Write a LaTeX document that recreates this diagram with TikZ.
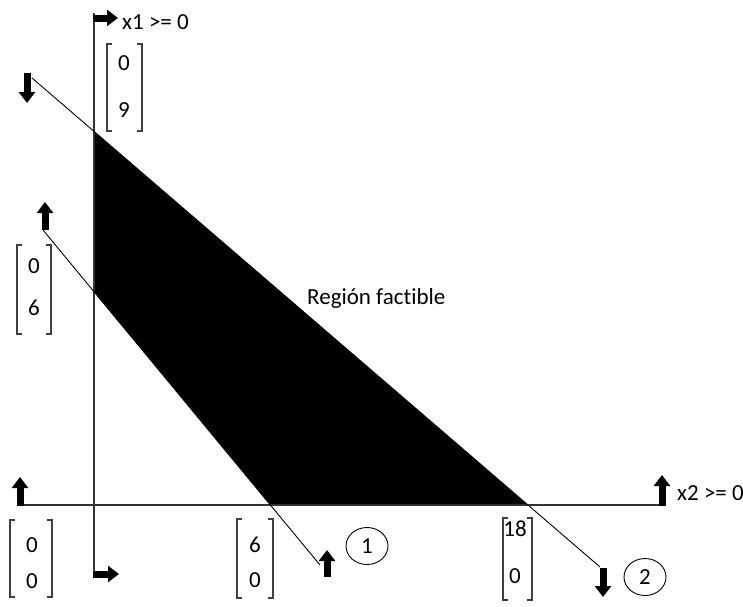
\documentclass[tikz,border=0pt]{standalone}
\usepackage{fontspec}
\setmainfont{Carlito}[Ligatures={NoCommon}]
\usetikzlibrary{arrows.meta,shapes.geometric}
\begin{document}
\begin{tikzpicture}[x=1pt,y=-1pt,
  axis/.style={draw=black!80, line width=1.6pt},
  constraint/.style={draw=black, line width=0.9pt},
  blockarrow/.style={line width=7pt, line cap=butt, -{Triangle[length=11pt,width=16pt]}},
  bracketline/.style={draw=black!75, line width=1.4pt},
  lbl/.style={font=\fontsize{23}{27}\selectfont, inner sep=0pt, text=black},
  tag/.style={draw=black, line width=0.9pt, ellipse, minimum width=42pt, minimum height=37pt, inner sep=0pt, font=\fontsize{23}{27}\selectfont}]
\useasboundingbox (0,0) rectangle (743,606);
% key points
\coordinate (L2a) at (32,78);
\coordinate (L2b) at (600,567);
\coordinate (L1a) at (43,230);
\coordinate (L1b) at (320,565);
\coordinate (Vt) at (94,13);
\coordinate (Vb) at (94,574);
\coordinate (Hl) at (19,505);
\coordinate (Hr) at (662,505);
% feasible region
\fill[black] (intersection of L2a--L2b and Vt--Vb) -- (intersection of L2a--L2b and Hl--Hr)
  -- (intersection of L1a--L1b and Hl--Hr) -- (intersection of L1a--L1b and Vt--Vb) -- cycle;
% axes
\draw[axis] (Vt) -- (Vb);
\draw[axis] (Hl) -- (Hr);
% constraint lines
\draw[constraint] (L2a) -- (L2b);
\draw[constraint] (L1a) -- (L1b);
% block arrows
\coordinate (aT1) at (93,18);  \coordinate (aT2) at (118,18);
\coordinate (aB1) at (93,574); \coordinate (aB2) at (119,574);
\coordinate (aL1) at (20,506); \coordinate (aL2) at (20,477);
\coordinate (aR1) at (662,506); \coordinate (aR2) at (662,475);
\coordinate (aD1) at (27,73);  \coordinate (aD2) at (27,103);
\coordinate (aU1) at (45,230); \coordinate (aU2) at (45,202);
\coordinate (aE1) at (327,577); \coordinate (aE2) at (327,550);
\coordinate (aF1) at (603,568); \coordinate (aF2) at (603,597);
\draw[blockarrow] (aT1) -- (aT2);
\draw[blockarrow] (aB1) -- (aB2);
\draw[blockarrow] (aL1) -- (aL2);
\draw[blockarrow] (aR1) -- (aR2);
\draw[blockarrow] (aD1) -- (aD2);
\draw[blockarrow] (aU1) -- (aU2);
\draw[blockarrow] (aE1) -- (aE2);
\draw[blockarrow] (aF1) -- (aF2);
% brackets
\draw[bracketline] (112,44) -- (107,44) -- (107,131) -- (112,131);
\draw[bracketline] (137,44) -- (142,44) -- (142,131) -- (137,131);
\draw[bracketline] (22,245) -- (17,245) -- (17,334) -- (22,334);
\draw[bracketline] (46,245) -- (51,245) -- (51,334) -- (46,334);
\draw[bracketline] (15,520) -- (10,520) -- (10,597) -- (15,597);
\draw[bracketline] (47,520) -- (52,520) -- (52,597) -- (47,597);
\draw[bracketline] (242,519) -- (237,519) -- (237,598) -- (242,598);
\draw[bracketline] (268,519) -- (273,519) -- (273,598) -- (268,598);
\draw[bracketline] (508,518) -- (503,518) -- (503,600) -- (508,600);
\draw[bracketline] (527,518) -- (532,518) -- (532,600) -- (527,600);
% numbers
\node[lbl] (n09a) at (124,63) {0};
\node[lbl] (n09b) at (124,110) {9};
\node[lbl] (n06a) at (34,266) {0};
\node[lbl] (n06b) at (34,308) {6};
\node[lbl] (n00a) at (32,545) {0};
\node[lbl] (n00b) at (32,581) {0};
\node[lbl] (n60a) at (255,545) {6};
\node[lbl] (n60b) at (255,580) {0};
\node[lbl] (n18a) at (515,529) {18};
\node[lbl] (n18b) at (515,576) {0};
% labels
\node[lbl, anchor=base west] (x1) at (122,29) {x1 >= 0};
\node[lbl, anchor=base west] (x2) at (677,500) {x2 >= 0};
\node[lbl, anchor=base west] (reg) at (307,304) {Región factible};
\node[tag] (c1) at (367,546) {1};
\node[tag] (c2) at (645,577) {2};
\end{tikzpicture}
\end{document}
